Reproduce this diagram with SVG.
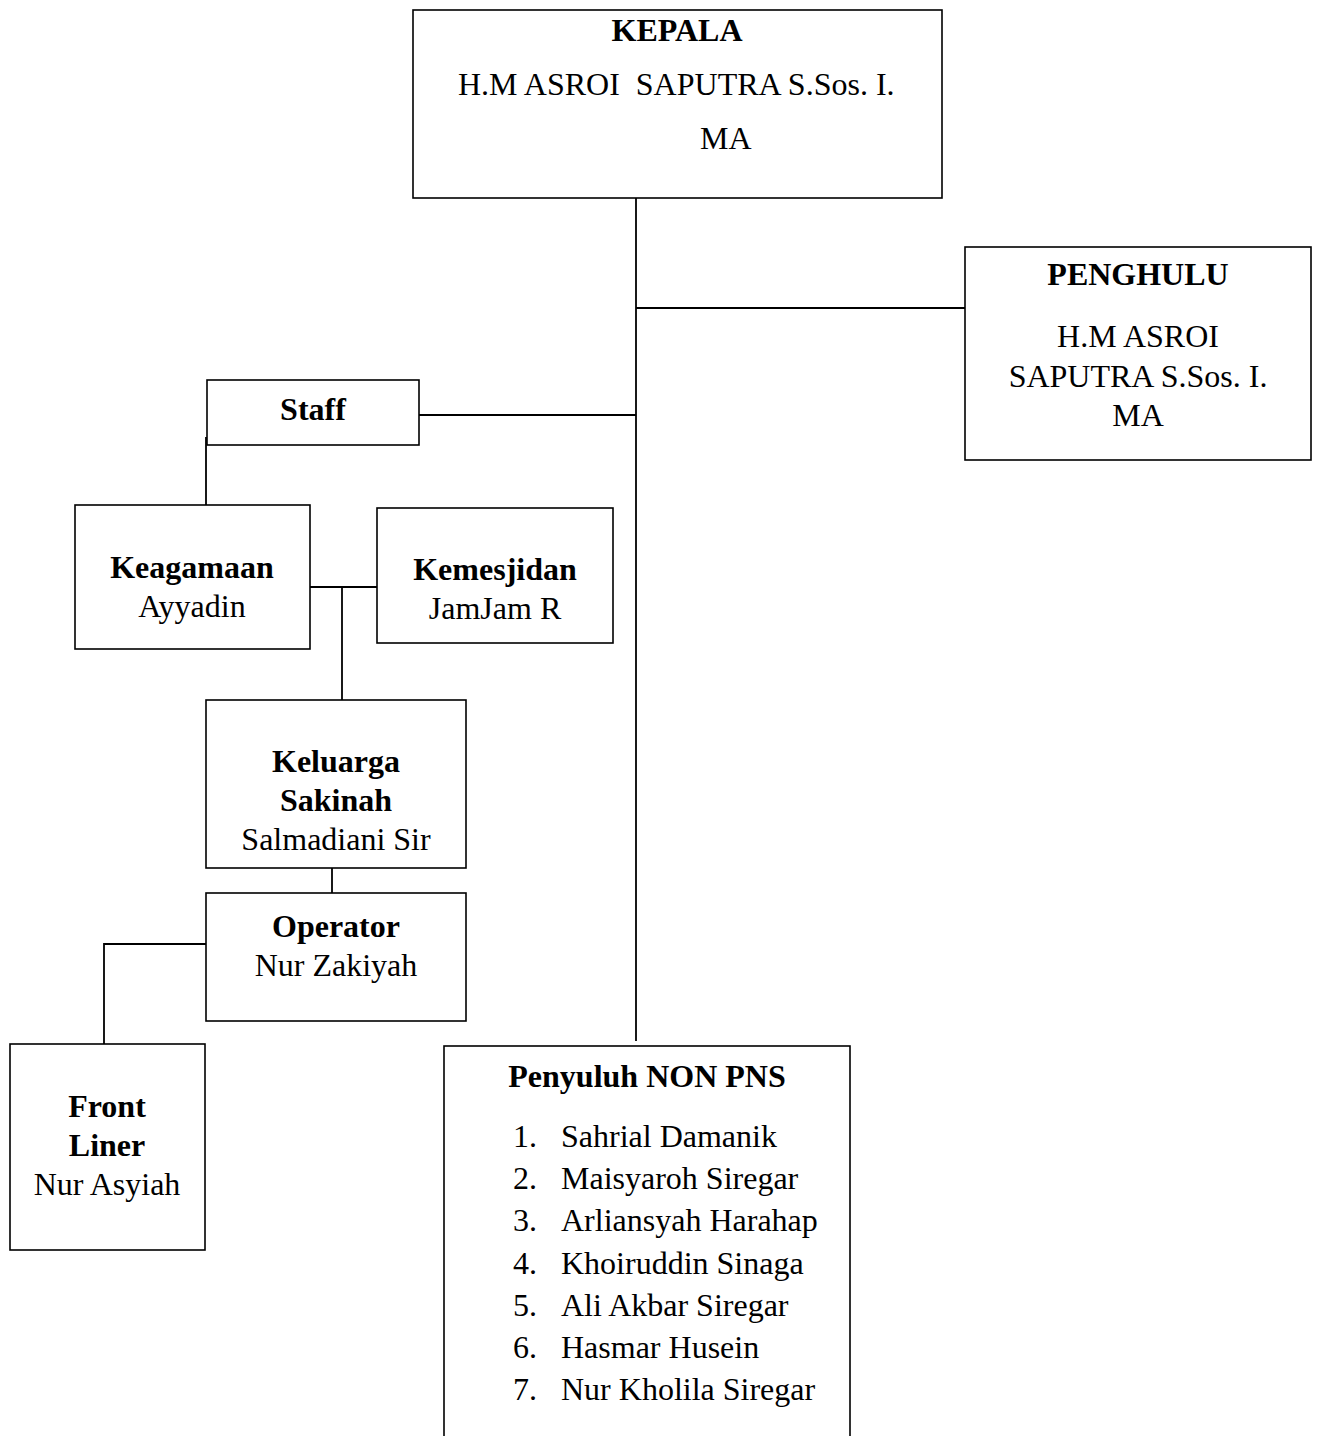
<svg xmlns="http://www.w3.org/2000/svg" width="1317" height="1436" viewBox="0 0 1317 1436">
<style>
.box{fill:#fff;stroke:#000;stroke-width:1.6}
.ln{stroke:#000;stroke-width:1.8;fill:none}
text{font-family:"Liberation Serif","Times New Roman",serif;font-size:32px;fill:#000}
.b{font-weight:bold}
.c{text-anchor:middle}
</style>
<rect width="1317" height="1436" fill="#fff"/>
<g id="connectors">
<path class="ln" d="M636 198V1041"/>
<path class="ln" d="M636 308H965"/>
<path class="ln" d="M419 415H636"/>
<path class="ln" d="M206 437V506"/>
<path class="ln" d="M310 587H377"/>
<path class="ln" d="M342 587V700"/>
<path class="ln" d="M332 868V893"/>
<path class="ln" d="M206 944H104V1044"/>
</g>
<g id="kepala">
<rect class="box" x="413" y="10" width="529" height="188" stroke-width="2.2"/>
<text class="b c" x="677" y="41">KEPALA</text>
<text x="458" y="95" xml:space="preserve">H.M ASROI  SAPUTRA S.Sos. I.</text>
<text x="700" y="149">MA</text>
</g>
<g id="penghulu">
<rect class="box" x="965" y="247" width="346" height="213"/>
<text class="b c" x="1138" y="285">PENGHULU</text>
<text class="c" x="1138" y="347">H.M ASROI</text>
<text class="c" x="1138" y="387">SAPUTRA S.Sos. I.</text>
<text class="c" x="1138" y="426">MA</text>
</g>
<g id="staff">
<rect class="box" x="207" y="380" width="212" height="65"/>
<text class="b c" x="313" y="420">Staff</text>
</g>
<g id="keagamaan">
<rect class="box" x="75" y="505" width="235" height="144"/>
<text class="b c" x="192" y="578">Keagamaan</text>
<text class="c" x="192" y="617">Ayyadin</text>
</g>
<g id="kemesjidan">
<rect class="box" x="377" y="508" width="236" height="135"/>
<text class="b c" x="495" y="580">Kemesjidan</text>
<text class="c" x="495" y="619">JamJam R</text>
</g>
<g id="keluarga-sakinah">
<rect class="box" x="206" y="700" width="260" height="168"/>
<text class="b c" x="336" y="772">Keluarga</text>
<text class="b c" x="336" y="811">Sakinah</text>
<text class="c" x="336" y="850">Salmadiani Sir</text>
</g>
<g id="operator">
<rect class="box" x="206" y="893" width="260" height="128" stroke-width="2"/>
<text class="b c" x="336" y="937">Operator</text>
<text class="c" x="336" y="976">Nur Zakiyah</text>
</g>
<g id="front-liner">
<rect class="box" x="10" y="1044" width="195" height="206" stroke-width="2"/>
<text class="b c" x="107" y="1117">Front</text>
<text class="b c" x="107" y="1156">Liner</text>
<text class="c" x="107" y="1195">Nur Asyiah</text>
</g>
<g id="penyuluh-non-pns">
<rect class="box" x="444" y="1046" width="406" height="400"/>
<text class="b c" x="647" y="1087">Penyuluh NON PNS</text>
<text x="513" y="1147">1.</text><text x="561" y="1147">Sahrial Damanik</text>
<text x="513" y="1189">2.</text><text x="561" y="1189">Maisyaroh Siregar</text>
<text x="513" y="1231">3.</text><text x="561" y="1231">Arliansyah Harahap</text>
<text x="513" y="1274">4.</text><text x="561" y="1274">Khoiruddin Sinaga</text>
<text x="513" y="1316">5.</text><text x="561" y="1316">Ali Akbar Siregar</text>
<text x="513" y="1358">6.</text><text x="561" y="1358">Hasmar Husein</text>
<text x="513" y="1400">7.</text><text x="561" y="1400">Nur Kholila Siregar</text>
</g>
</svg>
